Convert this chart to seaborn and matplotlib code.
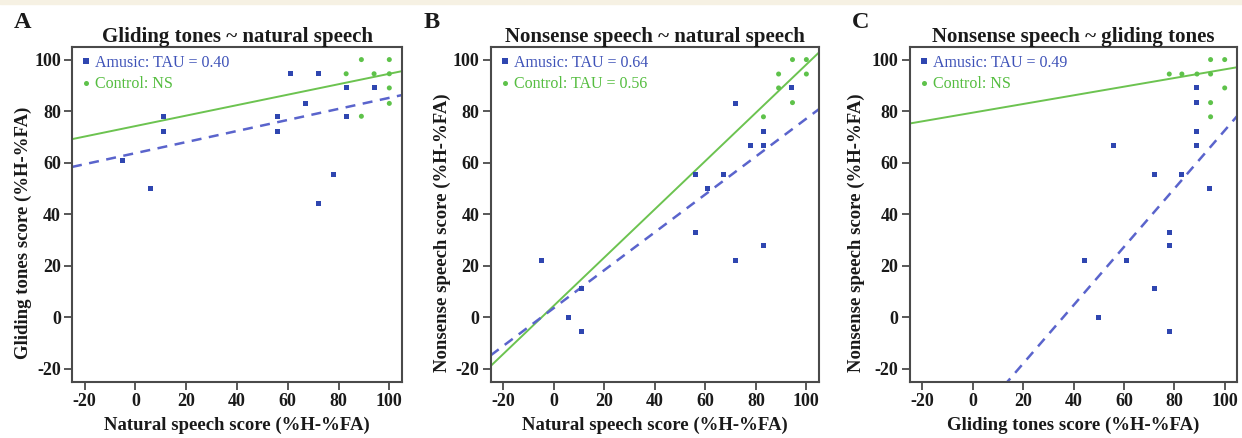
import numpy as np
import pandas as pd
import matplotlib
matplotlib.use("Agg")
import matplotlib.pyplot as plt
import seaborn as sns

# ---------------- data ----------------
# Panel A: gliding tones (y) vs natural speech (x)
a_amus_x = [-5, 6, 11, 11, 56, 56, 61, 67, 72, 72, 78, 83, 83, 94]
a_amus_y = [61, 50, 78, 72, 78, 72, 94.5, 83, 94.5, 44, 55.5, 89, 78, 89]
a_ctrl_x = [83, 89, 89, 94, 100, 100, 100, 100]
a_ctrl_y = [94.5, 100, 78, 94.5, 100, 94.5, 89, 83]

# Panel B: nonsense speech (y) vs natural speech (x)
b_amus_x = [-5, 6, 11, 11, 56, 56, 61, 67, 72, 72, 78, 83, 83, 83, 94]
b_amus_y = [22, 0, 11, -5.5, 33, 55.5, 50, 55.5, 83, 22, 66.7, 66.7, 72.2, 28, 89]
b_ctrl_x = [83, 89, 89, 94.5, 94.5, 100, 100]
b_ctrl_y = [77.8, 89, 94.4, 100, 83.3, 100, 94.4]

# Panel C: nonsense speech (y) vs gliding tones (x)
c_amus_x = [44.5, 50, 56, 61, 72, 72, 78, 78, 78, 83, 89, 89, 89, 89, 94]
c_amus_y = [22, 0, 66.7, 22, 11, 55.5, 33, 28, -5.5, 55.5, 89, 83.3, 72.2, 66.7, 50]
c_ctrl_x = [78, 83, 89, 94.4, 94.4, 94.4, 94.4, 100, 100]
c_ctrl_y = [94.4, 94.4, 94.4, 94.4, 100, 83.3, 77.8, 100, 89]

# fitted lines (intercept, slope)
a_amus_fit = [63.7, 0.2146]
a_ctrl_fit = [74.2, 0.203]
b_amus_fit = [3.6, 0.735]
b_ctrl_fit = [4.5, 0.936]
c_amus_fit = [-40.6, 1.131]
c_ctrl_fit = [79.4, 0.168]

panel_letters = ["A", "B", "C"]
titles = ["Gliding tones ~ natural speech",
          "Nonsense speech ~ natural speech",
          "Nonsense speech ~ gliding tones"]
xlabels = ["Natural speech score (%H-%FA)",
           "Natural speech score (%H-%FA)",
           "Gliding tones score (%H-%FA)"]
ylabels = ["Gliding tones score (%H-%FA)",
           "Nonsense speech score (%H-%FA)",
           "Nonsense speech score (%H-%FA)"]
amus_labels = ["Amusic: TAU = 0.40", "Amusic: TAU = 0.64", "Amusic: TAU = 0.49"]
ctrl_labels = ["Control: NS", "Control: TAU = 0.56", "Control: NS"]
ticks = [-20, 0, 20, 40, 60, 80, 100]

panels = [
    (a_amus_x, a_amus_y, a_ctrl_x, a_ctrl_y, a_amus_fit, a_ctrl_fit),
    (b_amus_x, b_amus_y, b_ctrl_x, b_ctrl_y, b_amus_fit, b_ctrl_fit),
    (c_amus_x, c_amus_y, c_ctrl_x, c_ctrl_y, c_amus_fit, c_ctrl_fit),
]

# ---------------- style ----------------
sns.set_theme(style="ticks")
plt.rcParams['font.family'] = ['Liberation Serif', 'DejaVu Serif']
plt.rcParams['axes.edgecolor'] = '#4a4a4a'

BLUE_PT = '#2f46b0'
BLUE_LINE = '#5a64cc'
BLUE_TXT = '#3e52b8'
GREEN_PT = '#5ec24a'
GREEN_LINE = '#6cc350'
GREEN_TXT = '#55bd40'

fig = plt.figure(figsize=(12.42, 4.38), dpi=100)
fig.patches.append(plt.Rectangle((0, 1 - 4 / 438), 1, 4 / 438, transform=fig.transFigure,
                                 color='#f6f1e3', zorder=0))

lefts = [72 / 1242, 490.7 / 1242, 909.7 / 1242]
widths = [330 / 1242, 328.3 / 1242, 327.6 / 1242]
bottom = 1 - 381.7 / 438
height = 335 / 438
letter_x = [14 / 1242, 424 / 1242, 852 / 1242]
ylabel_x = [-0.122, -0.122, -0.135]

for i, (ax_x, ax_y, cx, cy, afit, cfit) in enumerate(panels):
    ax = fig.add_axes([lefts[i], bottom, widths[i], height])
    df = pd.DataFrame({
        "x": list(ax_x) + list(cx),
        "y": list(ax_y) + list(cy),
        "group": [amus_labels[i]] * len(ax_x) + [ctrl_labels[i]] * len(cx),
    })
    sns.scatterplot(data=df, x="x", y="y", hue="group", style="group",
                    markers=["s", "o"], palette=[BLUE_PT, GREEN_PT],
                    s=13, linewidth=0, ax=ax, zorder=3)
    xs = np.array([-25.0, 105.0])
    ax.plot(xs, cfit[0] + cfit[1] * xs, color=GREEN_LINE, lw=1.4, zorder=2)
    ax.plot(xs, afit[0] + afit[1] * xs, color=BLUE_LINE, lw=1.8,
            dashes=(4, 3), zorder=2)

    ax.set_xlim(-25, 105)
    ax.set_ylim(-25, 105)
    ax.set_xticks(ticks)
    ax.set_yticks(ticks)
    ax.set_xticklabels([str(t) for t in ticks], fontweight='bold', fontsize=13)
    ax.set_yticklabels([str(t) for t in ticks], fontweight='bold', fontsize=13)
    ax.tick_params(axis='both', length=6, width=1.3, color='#4a4a4a', pad=2,
                   labelcolor='#1a1a1a')
    for sp in ax.spines.values():
        sp.set_linewidth(1.5)
        sp.set_color('#4a4a4a')
    ax.set_xlabel(xlabels[i], fontweight='bold', fontsize=13.5, labelpad=5,
                  color='#1a1a1a')
    ax.set_ylabel(ylabels[i], fontweight='bold', fontsize=13.5,
                  color='#1a1a1a')
    ax.yaxis.set_label_coords(ylabel_x[i], 0.445)
    ax.set_title(titles[i], fontweight='bold', fontsize=15, pad=3, color='#1a1a1a')

    leg = ax.legend(loc='upper left', frameon=False, fontsize=11.5,
                    handletextpad=0.15, handlelength=0.8, labelspacing=0.35,
                    borderaxespad=0.2, borderpad=0.3, markerscale=1.0)
    for txt, col in zip(leg.get_texts(), [BLUE_TXT, GREEN_TXT]):
        txt.set_color(col)

    fig.text(letter_x[i], 1 - 28 / 438, panel_letters[i], fontsize=17.5,
             fontweight='bold', color='#1a1a1a')

fig.savefig("out.png", dpi=100, facecolor='white')
